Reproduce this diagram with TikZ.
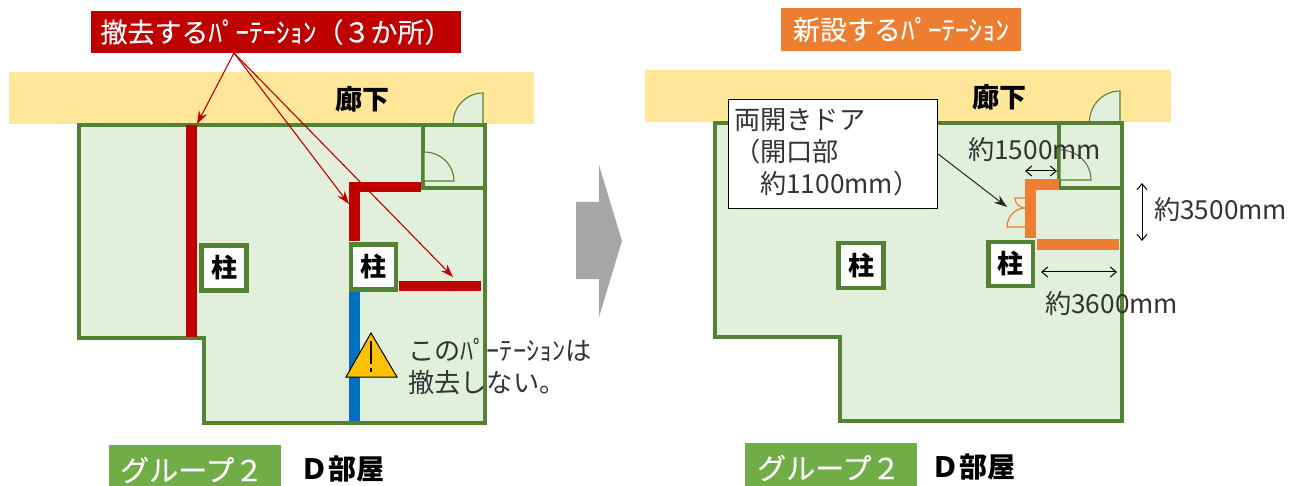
\documentclass[tikz,border=0pt]{standalone}
\usepackage{fontspec}
\setmainfont{Noto Sans CJK JP}
\newfontfamily\medium[FakeBold=0.25]{Noto Sans CJK JP}
\usetikzlibrary{arrows.meta}
\definecolor{roomfill}{HTML}{E2EFDA}
\definecolor{roomline}{HTML}{548235}
\definecolor{corridor}{HTML}{FFE699}
\definecolor{redbar}{HTML}{C00000}
\definecolor{orangebar}{HTML}{ED7D31}
\definecolor{bluebar}{HTML}{0070C0}
\definecolor{grouplbl}{HTML}{70AD47}
\definecolor{warn}{HTML}{FFC000}
\tikzset{
  x=1pt,y=-1pt,
  room/.style={draw=roomline,fill=roomfill,line width=4pt,line join=miter},
  inner wall/.style={draw=roomline,line width=4pt},
  door/.style={draw=roomline,fill=roomfill,line width=1.1pt},
  hall/.style={fill=corridor},
  pillar/.style={draw=roomline,fill=white,line width=4.5pt,inner sep=0pt,font=\bfseries\fontsize{26}{26}\selectfont},
  body/.style={inner sep=0pt,anchor=west,text=black!80,font=\fontsize{26.2}{32}\selectfont,align=left},
  hallname/.style={inner sep=0pt,font=\bfseries\fontsize{27}{27}\selectfont},
  banner/.style={inner sep=0pt,text=white,font=\medium\fontsize{27}{27}\selectfont},
  groupbanner/.style={fill=grouplbl,minimum width=172pt},
  groupname/.style={inner sep=0pt,text=white,anchor=west,font=\medium\fontsize{29}{29}\selectfont},
  roomname/.style={inner sep=0pt,anchor=west,font=\bfseries\fontsize{28}{28}\selectfont},
  redarrow/.style={draw=redbar,line width=1.1pt,-{Stealth[length=13pt,width=9pt]}},
  dim/.style={draw=black,line width=1pt,{Straight Barb[length=6pt,width=10pt]}-{Straight Barb[length=6pt,width=10pt]}},
}
\begin{document}
\begin{tikzpicture}
\useasboundingbox (0,0) rectangle (1303,486);
\fill[white] (0,0) rectangle (1303,486);

% ---------- left plan
\fill[hall] (9,72) rectangle (534,124);
\filldraw[door] (483,124) -- (483,93) .. controls (466,93) and (453,107) .. (453,124) -- cycle;
\path[room] (79,125) -- (485,125) -- (485,423) -- (204,423) -- (204,338) -- (79,338) -- cycle;
\draw[inner wall] (423,125) -- (423,188) -- (485,188);
\draw[door] (424,181) -- (424,152) .. controls (441,152) and (454,165) .. (454,181) -- cycle;
\fill[redbar] (186,125) rectangle (197,337);
\fill[redbar] (349,182) rectangle (421,192.5);
\fill[redbar] (349,182) rectangle (360,241);
\fill[redbar] (399,281) rectangle (481,291);
\fill[bluebar] (349,291) rectangle (360,421);
\node[hallname] (hallL) at (362,99) {廊下};
\node[pillar,minimum width=45pt,minimum height=45pt] (pilLa) at (224,268) {柱};
\node[pillar,minimum width=45pt,minimum height=45pt] (pilLb) at (373.5,267) {柱};

\filldraw[draw=black,fill=warn,line width=1pt,line join=miter] (371,333) -- (397,377) -- (346,377) -- cycle;
\fill[black] (370,341) rectangle (372.4,364);
\fill[black] (370,368) rectangle (372.4,372);
\node[body] (keep) at (408,366.5) {このﾊﾟｰﾃｰｼｮﾝは\\撤去しない。};

\node[fill=redbar,banner,minimum width=370pt,minimum height=42pt] (bannerRed) at (276,32) {撤去するﾊﾟｰﾃｰｼｮﾝ（３か所）};
\coordinate (fromRed) at (234,53);
\coordinate (toA) at (197,124);
\coordinate (toB) at (349,204);
\coordinate (toC) at (453,277);
\draw[redarrow] (fromRed) -- (toA);
\draw[redarrow] (fromRed) -- (toB);
\draw[redarrow] (fromRed) -- (toC);

\node[groupbanner,minimum height=41pt,inner sep=0pt] (groupL) at (195,465.5) {};
\node[groupname] (groupLt) at (120,470) {グループ２};
\node[roomname] (roomL) at (300,469) {Ｄ部屋};

% ---------- block arrow
\fill[black!35] (576,202) -- (599,202) -- (599,165) -- (622,241) -- (599,317) -- (599,279) -- (576,279) -- cycle;

% ---------- right plan
\fill[hall] (645,70) rectangle (1171,122);
\filldraw[door] (1120,122) -- (1120,91) .. controls (1103,91) and (1089.5,105) .. (1089.5,122) -- cycle;
\path[room] (715,123) -- (1122,123) -- (1122,421) -- (840,421) -- (840,337) -- (715,337) -- cycle;
\draw[inner wall] (1059,123) -- (1059,188) -- (1122,188);
\draw[door] (1060,180) -- (1060,150) .. controls (1077,150) and (1091,163) .. (1091,180) -- cycle;
\fill[orangebar] (1025,179) rectangle (1059,190);
\fill[orangebar] (1025,179) rectangle (1036,238);
\fill[orangebar] (1037,239) rectangle (1119,250);
\draw[draw=orangebar,line width=1.2pt] (1025,198) -- (1015,198) .. controls (1015,204) and (1020,208) .. (1025,208);
\draw[draw=orangebar,line width=1.2pt] (1025,227) -- (1007,227) .. controls (1007,217) and (1015,208) .. (1025,208);

\node[hallname] (hallR) at (999,97) {廊下};
\node[pillar,minimum width=45pt,minimum height=44.5pt] (pilRa) at (861,265.5) {柱};
\node[pillar,minimum width=44.5pt,minimum height=44pt] (pilRb) at (1010.5,264) {柱};

\node[draw=black,fill=white,line width=1pt,minimum width=209pt,minimum height=109pt,inner sep=0pt] (callout) at (832.5,154.5) {};
\node[body] (calloutA) at (734,120) {両開きドア};
\node[body] (calloutB) at (734,152) {（開口部};
\node[body] (calloutC) at (760,184) {約1100mm）};
\coordinate (doubleDoor) at (1007,207);
\coordinate (calloutEdge) at (938,154);
\draw[draw=black!85,line width=1pt,-{Stealth[length=13pt,width=9pt]}] (calloutEdge) -- (doubleDoor);

\coordinate (da) at (1025,171);
\coordinate (db) at (1057,171);
\draw[dim] (da) -- (db);
\node[body] (dimA) at (968,150) {約1500mm};
\coordinate (dc) at (1142,183);
\coordinate (dd) at (1142,241);
\draw[dim] (dc) -- (dd);
\node[body] (dimB) at (1154,210) {約3500mm};
\coordinate (de) at (1041,272);
\coordinate (df) at (1117,272);
\draw[dim] (de) -- (df);
\node[body] (dimC) at (1045,304) {約3600mm};

\node[fill=orangebar,banner,minimum width=240pt,minimum height=43pt] (bannerNew) at (901,29.5) {新設するﾊﾟｰﾃｰｼｮﾝ};

\node[groupbanner,minimum height=43pt,inner sep=0pt] (groupR) at (831,464.5) {};
\node[groupname] (groupRt) at (757,468) {グループ２};
\node[roomname] (roomR) at (931,467) {Ｄ部屋};
\end{tikzpicture}
\end{document}
